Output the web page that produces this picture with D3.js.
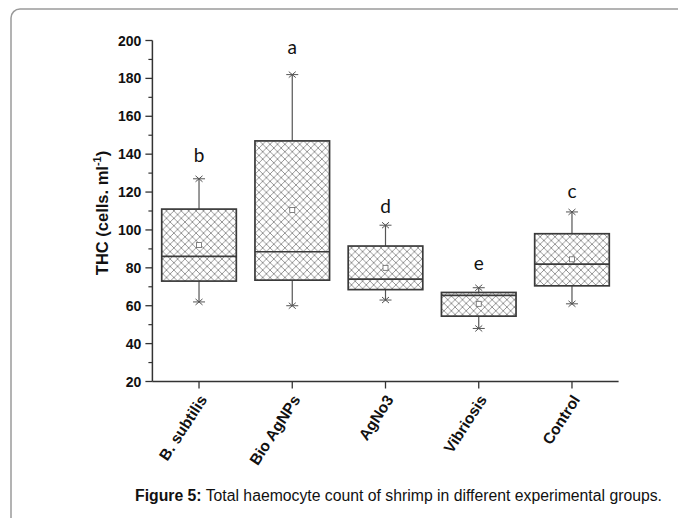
<!DOCTYPE html>
<html>
<head>
<meta charset="utf-8">
<script src="https://cdn.jsdelivr.net/npm/d3@7"></script>
<style>
body { margin: 0; background: #fff; }
.tick_label { font-family: "Liberation Sans", Arial, sans-serif; font-weight: bold; font-size: 14px; fill: #111; }
.x_label { font-family: "Liberation Sans", Arial, sans-serif; font-weight: bold; font-size: 15.5px; fill: #111; }
.y_title { font-family: "Liberation Sans", Arial, sans-serif; font-weight: bold; font-size: 16.5px; fill: #111; }
.letter { font-family: Lato, "Open Sans", sans-serif; font-size: 19px; fill: #111; }
</style>
</head>
<body>
<div id="d3-container"></div>
<script>
// group names and box statistics
let groups = ["B. subtilis", "Bio AgNPs", "AgNo3", "Vibriosis", "Control"];
let whisker_low  = [62, 60, 63, 48, 61];
let q1           = [73, 73.5, 68.5, 54.5, 70.5];
let medians      = [86, 88.5, 74, 65.5, 82];
let q3           = [111, 147, 91.5, 67, 98];
let whisker_high = [127, 182, 102.5, 69.5, 109.5];
let means        = [92, 110.5, 80, 61, 84.5];
let letters      = ["b", "a", "d", "e", "c"];
let letter_value = [136, 193, 109, 79, 117];
let y_ticks = [20, 40, 60, 80, 100, 120, 140, 160, 180, 200];
let y_minor = [30, 50, 70, 90, 110, 130, 150, 170, 190];

let window_width = 678;
let window_height = 518;

let svg = d3.select("#d3-container").append("svg")
    .attr("width", window_width)
    .attr("height", window_height);

// frame of the figure panel, runs off the page bottom and right
svg.append("rect")
    .attr("x", 11).attr("y", 9)
    .attr("width", 720).attr("height", 580)
    .attr("rx", 9)
    .style("fill", "none")
    .style("stroke", "#9a9a9a")
    .style("stroke-width", 1.5);

let x = d3.scaleLinear().domain([0.5, 5.5]).range([152.4, 618.6]);
let y = d3.scaleLinear().domain([20, 200]).range([381.5, 40.5]);

// cross hatch fill
let defs = svg.append("defs");
let pat = defs.append("pattern")
    .attr("id", "hatch")
    .attr("patternUnits", "userSpaceOnUse")
    .attr("width", 7.4).attr("height", 7.4);
pat.append("rect").attr("width", 7.4).attr("height", 7.4).style("fill", "#fff");
pat.append("path")
    .attr("d", "M-1,-1 L8.4,8.4 M-1,8.4 L8.4,-1 M-4.7,2.7 L0,7.4 M2.7,-4.7 L7.4,0")
    .style("stroke", "#6a6a6a")
    .style("stroke-width", 0.7)
    .style("fill", "none");

let box_half = 0.4;
let idx = d3.range(groups.length);
let cx = i => x(i + 1);

// whiskers
svg.selectAll(".whisker")
    .data(idx).enter().append("line")
    .attr("x1", cx).attr("x2", cx)
    .attr("y1", i => y(whisker_low[i]))
    .attr("y2", i => y(whisker_high[i]))
    .style("stroke", "#555").style("stroke-width", 1.2);

// caps with star markers
[whisker_low, whisker_high].forEach(function(arr) {
    let g = svg.selectAll(null).data(idx).enter().append("g")
        .attr("transform", i => "translate(" + cx(i) + "," + y(arr[i]) + ")");
    g.append("path")
        .attr("d", "M-6,0 L6,0 M-3.5,-3 L3.5,3 M-3.5,3 L3.5,-3")
        .style("stroke", "#555").style("stroke-width", 1);
});

// boxes
svg.selectAll(".box")
    .data(idx).enter().append("rect")
    .attr("x", i => x(i + 1 - box_half))
    .attr("y", i => y(q3[i]))
    .attr("width", i => x(i + 1 + box_half) - x(i + 1 - box_half))
    .attr("height", i => y(q1[i]) - y(q3[i]))
    .style("fill", "url(#hatch)")
    .style("stroke", "#3a3a3a")
    .style("stroke-width", 1.7);

// medians
svg.selectAll(".median")
    .data(idx).enter().append("line")
    .attr("x1", i => x(i + 1 - box_half))
    .attr("x2", i => x(i + 1 + box_half))
    .attr("y1", i => y(medians[i]))
    .attr("y2", i => y(medians[i]))
    .style("stroke", "#3a3a3a").style("stroke-width", 1.7);

// mean squares
svg.selectAll(".mean")
    .data(idx).enter().append("rect")
    .attr("x", i => cx(i) - 2.5)
    .attr("y", i => y(means[i]) - 2.5)
    .attr("width", 5).attr("height", 5)
    .style("fill", "#fff")
    .style("stroke", "#666").style("stroke-width", 0.8);

// significance letters
svg.selectAll(".letter")
    .data(idx).enter().append("text")
    .classed("letter", true)
    .attr("x", cx)
    .attr("y", i => y(letter_value[i]))
    .attr("text-anchor", "middle")
    .text(i => letters[i]);

// y axis
let axis_col = "#333";
svg.append("line")
    .attr("x1", x(0.5)).attr("x2", x(0.5))
    .attr("y1", y(200)).attr("y2", y(20))
    .style("stroke", axis_col).style("stroke-width", 1.5);
svg.selectAll(".ytick")
    .data(y_ticks).enter().append("line")
    .attr("x1", x(0.5) - 7).attr("x2", x(0.5))
    .attr("y1", d => y(d)).attr("y2", d => y(d))
    .style("stroke", axis_col).style("stroke-width", 1.3);
svg.selectAll(".yminor")
    .data(y_minor).enter().append("line")
    .attr("x1", x(0.5) - 4).attr("x2", x(0.5))
    .attr("y1", d => y(d)).attr("y2", d => y(d))
    .style("stroke", axis_col).style("stroke-width", 1.2);
svg.selectAll(".ylabel")
    .data(y_ticks).enter().append("text")
    .classed("tick_label", true)
    .attr("x", x(0.5) - 11)
    .attr("y", d => y(d))
    .attr("dy", "0.36em")
    .attr("text-anchor", "end")
    .text(d => d);

// x axis
svg.append("line")
    .attr("x1", x(0.5)).attr("x2", x(5.5))
    .attr("y1", y(20)).attr("y2", y(20))
    .style("stroke", axis_col).style("stroke-width", 1.5);
svg.selectAll(".xtick")
    .data(idx).enter().append("line")
    .attr("x1", cx).attr("x2", cx)
    .attr("y1", y(20)).attr("y2", y(20) + 7)
    .style("stroke", axis_col).style("stroke-width", 1.3);
svg.selectAll(".xlabel")
    .data(idx).enter().append("text")
    .classed("x_label", true)
    .attr("transform", i => "translate(" + (cx(i) + 4) + "," + (y(20) + 15) + ") rotate(-57)")
    .attr("dy", "0.36em")
    .attr("text-anchor", "end")
    .text(i => groups[i]);

// y axis title
let yt = svg.append("text")
    .classed("y_title", true)
    .attr("transform", "translate(108,213) rotate(-90)")
    .attr("text-anchor", "middle");
yt.append("tspan").text("THC (cells. ml");
yt.append("tspan").attr("dy", -7).style("font-size", "11px").text("-1");
yt.append("tspan").attr("dy", 7).text(")");

// caption
let cap = svg.append("text")
    .attr("x", 135).attr("y", 501)
    .attr("textLength", 527)
    .attr("lengthAdjust", "spacingAndGlyphs")
    .style("font-family", "'Liberation Sans', Arial, sans-serif")
    .style("font-size", "16px")
    .style("fill", "#111");
cap.append("tspan").style("font-weight", "bold").text("Figure 5:");
cap.append("tspan").text(" Total haemocyte count of shrimp in different experimental groups.");
</script>
</body>
</html>
